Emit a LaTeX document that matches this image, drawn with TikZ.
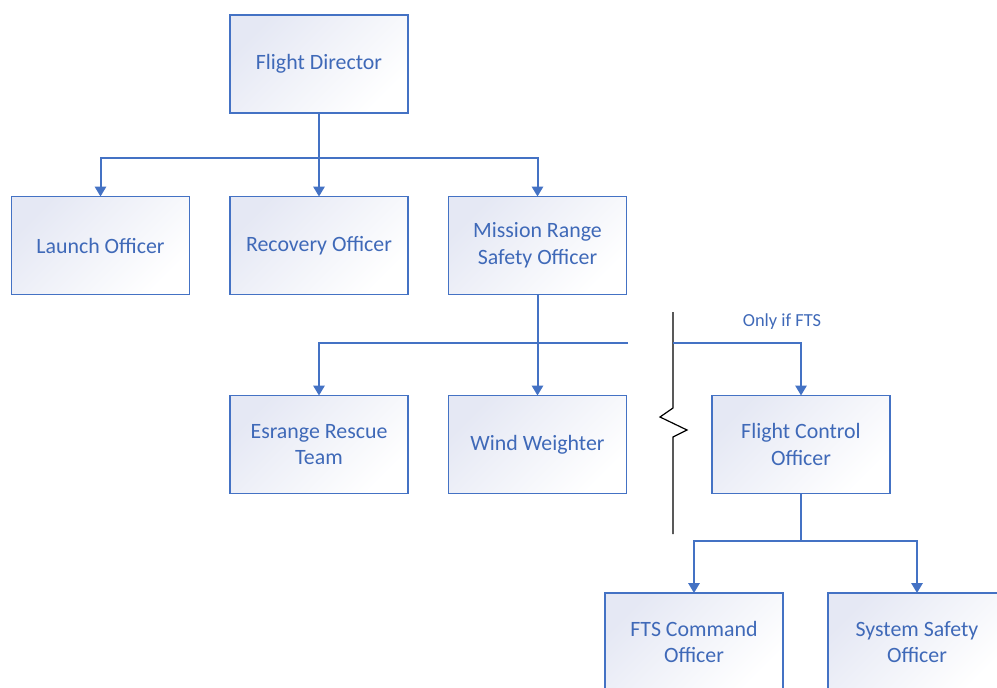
\documentclass[tikz,border=0pt]{standalone}
\usepackage{fontspec}
\setmainfont{Carlito}
\usetikzlibrary{arrows.meta}
\definecolor{lineblue}{HTML}{4472C4}
\definecolor{textblue}{HTML}{3F69B8}
\definecolor{lav}{HTML}{E5E8F4}
\tikzset{
  box/.style={draw=lineblue, line width=1.2pt, top color=lav, bottom color=white, shading angle=45,
    minimum width=133.5pt, minimum height=73.5pt, inner sep=0pt, outer sep=0pt,
    text=textblue, align=center, font=\fontsize{16.4}{20}\selectfont},
  conn/.style={draw=lineblue, line width=1.5pt},
  arr/.style={conn, -{Triangle[width=8.5pt,length=7.5pt]}},
  brk/.style={draw=black, line width=0.9pt},
  lbl/.style={text=textblue, font=\fontsize{13.8}{16}\selectfont, inner sep=0pt}
}
\begin{document}
\begin{tikzpicture}[x=0.75pt,y=-0.75pt]
\useasboundingbox (0,0) rectangle (997,687);
\clip (0,0) rectangle (997,687);
\node[box] (fd) at (319,64) {Flight Director};
\node[box] (lo) at (100.5,245.5) {Launch Officer};
\node[box] (ro) at (319,245.5) {Recovery Officer};
\node[box] (mrso) at (537.5,245.5) {Mission Range\\Safety Officer};
\node[box] (ert) at (319,444.5) {Esrange Rescue\\Team};
\node[box] (ww) at (537.5,444.5) {Wind Weighter};
\node[box] (fco) at (801,444.5) {Flight Control\\Officer};
\node[box] (fts) at (694,642) {FTS Command\\Officer};
\node[box] (sso) at (917,642) {System Safety\\Officer};
% top level
\draw[conn] (fd.south) -- ++(0,45) coordinate (j1);
\draw[arr] (j1) -| (lo.north);
\draw[arr] (j1) -| (mrso.north);
\draw[arr] (fd.south) -- (ro.north);
% mission range
\coordinate (j2r) at (628,343);
\draw[arr] (mrso.south) -- (ww.north);
\draw[arr] (j2r) -| (ert.north);
% break line
\draw[brk] (673,312) -- (673,408) -- (660,417) -- (687,430) -- (673,437) -- (673,534);
% only if FTS
\coordinate (j3) at (673,343);
\draw[arr] (j3) -| (fco.north);
\node[lbl] (only) at (782,322) {Only if FTS};
% flight control
\draw[conn] (fco.south) -- ++(0,47) coordinate (j4);
\draw[arr] (j4) -| (fts.north);
\draw[arr] (j4) -| (sso.north);
\end{tikzpicture}
\end{document}
